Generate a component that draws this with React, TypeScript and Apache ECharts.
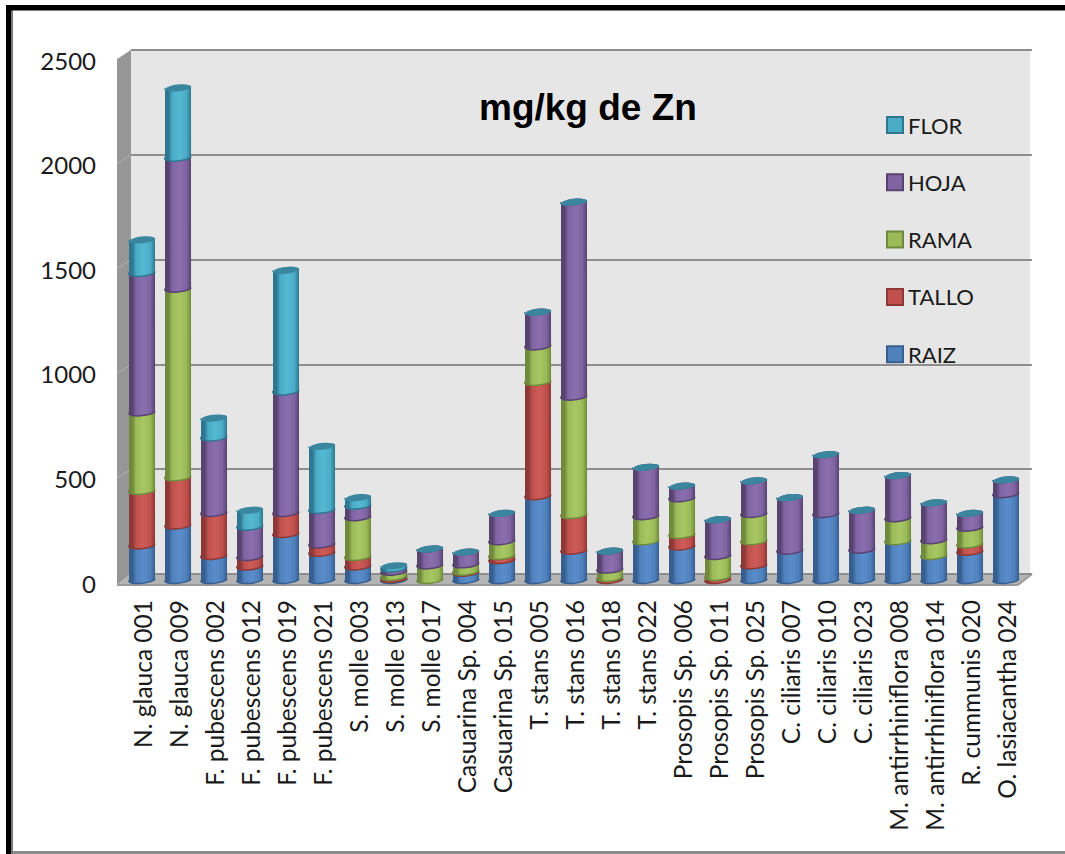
import React, { useEffect, useRef } from "react";
import * as echarts from "echarts";

const categories = [
  "N. glauca 001", "N. glauca 009", "F. pubescens 002", "F. pubescens 012", "F. pubescens 019",
  "F. pubescens 021", "S. molle 003", "S. molle 013", "S. molle 017", "Casuarina Sp. 004",
  "Casuarina Sp. 015", "T. stans 005", "T. stans 016", "T. stans 018", "T. stans 022",
  "Prosopis Sp. 006", "Prosopis Sp. 011", "Prosopis Sp. 025", "C. ciliaris 007", "C. ciliaris 010",
  "C. ciliaris 023", "M. antirrhiniflora 008", "M. antirrhiniflora 014", "R. cummunis 020", "O. lasiacantha 024",
];
const raiz = [165, 260, 115, 65, 220, 130, 65, 5, 0, 35, 95, 400, 140, 0, 185, 160, 0, 70, 140, 315, 145, 185, 115, 135, 410];
const tallo = [260, 230, 205, 45, 100, 40, 45, 10, 0, 5, 20, 545, 170, 10, 0, 55, 15, 115, 0, 0, 0, 0, 0, 35, 0];
const rama = [375, 900, 0, 0, 0, 0, 190, 25, 70, 35, 70, 170, 565, 40, 120, 175, 100, 130, 0, 0, 0, 110, 75, 80, 0];
const hoja = [665, 625, 360, 145, 580, 165, 55, 15, 75, 55, 130, 160, 925, 85, 230, 55, 170, 155, 250, 280, 185, 200, 175, 65, 65];
const flor = [155, 330, 90, 75, 575, 300, 35, 10, 0, 0, 0, 0, 0, 0, 0, 0, 0, 0, 0, 0, 0, 0, 0, 0, 0];
const yTicks = [0, 500, 1000, 1500, 2000, 2500];

const FONT = "Lato";
const stacks = [
  { name: "RAIZ", values: raiz, main: "#4F81BD", light: "#5A8DCB", dark: "#375E8E", cap: "#3F6A9E" },
  { name: "TALLO", values: tallo, main: "#C0504D", light: "#CE5B58", dark: "#8C3836", cap: "#9A3F3C" },
  { name: "RAMA", values: rama, main: "#9BBB59", light: "#A6C763", dark: "#6F8A3C", cap: "#7C9A42" },
  { name: "HOJA", values: hoja, main: "#8064A2", light: "#8B6EAE", dark: "#574270", cap: "#5F4A7C" },
  { name: "FLOR", values: flor, main: "#4BACC6", light: "#55B9D4", dark: "#2F7690", cap: "#3A869E" },
];

function segmentData(idx: number) {
  return categories.map((_, i) => {
    let start = 0;
    for (let s = 0; s < idx; s++) start += stacks[s].values[i];
    return [i, start, start + stacks[idx].values[i]];
  });
}

function makeRenderItem(idx: number) {
  const st = stacks[idx];
  const fill = new echarts.graphic.LinearGradient(0, 0, 1, 0, [
    { offset: 0, color: st.dark },
    { offset: 0.14, color: st.dark },
    { offset: 0.28, color: st.main },
    { offset: 0.55, color: st.light },
    { offset: 0.82, color: st.main },
    { offset: 1, color: st.dark },
  ]);
  return (_p: any, api: any) => {
    const i = api.value(0);
    const a = api.value(1);
    const b = api.value(2);
    if (b <= a && idx !== stacks.length - 1) return null;
    const c0 = api.coord([i, a]);
    const c1 = api.coord([i, b]);
    const cx = c0[0];
    const yb = c0[1];
    const yt = c1[1];
    const rx = 13;
    const ry = 3.6;
    const t = 1.4;
    const l = cx - rx;
    const r = cx + rx;
    const rot = -6;
    const children: any[] = [];
    if (b > a) {
      children.push({
        type: "path",
        shape: {
          pathData: `M${l} ${yt + t}L${l} ${yb + t}A${rx} ${ry} ${rot} 0 0 ${r} ${yb - t}L${r} ${yt - t}Z`,
        },
        style: { fill },
      });
      children.push({
        type: "path",
        shape: { pathData: `M${l} ${yb + t}A${rx} ${ry} ${rot} 0 0 ${r} ${yb - t}` },
        style: { fill: "none", stroke: st.dark, lineWidth: 1.5 },
      });
    }
    children.push({
      type: "path",
      shape: {
        pathData: `M${l} ${yt + t}A${rx} ${ry} ${rot} 1 1 ${r} ${yt - t}A${rx} ${ry} ${rot} 1 1 ${l} ${yt + t}Z`,
      },
      style: { fill: st.cap },
    });
    return { type: "group", children };
  };
}

export default function App() {
  const ref = useRef<HTMLDivElement>(null);
  useEffect(() => {
    const chart = echarts.init(ref.current!, null, { renderer: "svg" });
    const wallTicks = yTicks.slice(1, -1);
    chart.setOption({
      animation: false,
      backgroundColor: "#fff",
      title: {
        text: "mg/kg de Zn",
        left: 474,
        top: 84,
        textStyle: { fontFamily: "Liberation Sans", fontWeight: "bold", fontSize: 37, color: "#000" },
      },
      legend: {
        orient: "vertical",
        left: 886,
        top: 114,
        padding: 0,
        itemWidth: 16,
        itemHeight: 16,
        itemGap: 35.3,
        selectedMode: false,
        textStyle: { fontFamily: FONT, fontSize: 22, color: "#1a1a1a" },
        data: [...stacks].reverse().map((s) => ({
          name: s.name,
          icon: "rect",
          itemStyle: { color: s.main, borderColor: s.dark, borderWidth: 2 },
        })),
      },
      grid: [
        { left: 124, width: 900, top: 55, height: 524 },
        { left: 131, width: 901, top: 50, height: 524 },
        { left: 117, width: 901, top: 60, height: 523 },
      ],
      xAxis: [
        {
          type: "category",
          gridIndex: 0,
          data: categories,
          axisLine: { show: false },
          axisTick: { show: false },
          axisLabel: {
            rotate: 90,
            interval: 0,
            margin: 21,
            fontFamily: FONT,
            fontSize: 24.5,
            color: "#1a1a1a",
          },
        },
        { type: "category", gridIndex: 1, data: categories, show: false },
        { type: "category", gridIndex: 2, data: categories, show: false },
      ],
      yAxis: [
        { type: "value", gridIndex: 0, min: 0, max: 2500, interval: 500, show: false },
        {
          type: "value",
          gridIndex: 1,
          min: 0,
          max: 2500,
          interval: 500,
          axisLine: { show: false },
          axisTick: { show: false },
          axisLabel: { show: false },
          splitLine: { show: true, lineStyle: { color: "#8E8E8E", width: 2 } },
        },
        {
          type: "value",
          gridIndex: 2,
          min: 0,
          max: 2500,
          interval: 500,
          axisLine: { show: false },
          axisTick: { show: false },
          splitLine: { show: false },
          axisLabel: {
            margin: 21,
            fontFamily: FONT,
            fontSize: 24,
            color: "#1a1a1a",
            formatter: (v: number) => (yTicks.includes(v) ? String(v) : ""),
          },
        },
      ],
      series: stacks.map((s, idx) => ({
        type: "custom",
        name: s.name,
        xAxisIndex: 0,
        yAxisIndex: 0,
        clip: false,
        silent: true,
        itemStyle: { color: s.main },
        encode: { x: 0, y: [1, 2] },
        data: segmentData(idx),
        renderItem: makeRenderItem(idx),
      })),
      graphic: [
        { type: "rect", z: -10, shape: { x: 131, y: 50, width: 899, height: 524 }, style: { fill: "#E6E6E6" } },
        { type: "rect", z: -9, shape: { x: 131, y: 49, width: 901, height: 2 }, style: { fill: "#8E8E8E" } },
        { type: "polygon", z: -9, shape: { points: [[117, 59], [131, 50], [131, 574], [117, 585]] }, style: { fill: "#969696" } },
        { type: "polygon", z: -9, shape: { points: [[117, 585], [131, 574], [1032, 574], [1018, 585]] }, style: { fill: "#B4B4B4" } },
        { type: "line", z: -8, shape: { x1: 117, y1: 585, x2: 1018, y2: 585 }, style: { stroke: "#9A9A9A", lineWidth: 2 } },
        { type: "line", z: -8, shape: { x1: 131, y1: 574, x2: 1032, y2: 574 }, style: { stroke: "#8E8E8E", lineWidth: 2 } },
        { type: "line", z: -8, shape: { x1: 1018, y1: 585, x2: 1032, y2: 574 }, style: { stroke: "#9A9A9A", lineWidth: 2 } },
        ...wallTicks.map((v) => ({
          type: "line",
          z: -8,
          shape: { x1: 117, y1: 574 - v * 0.2096 + 9, x2: 131, y2: 574 - v * 0.2096 },
          style: { stroke: "#A8A8A8", lineWidth: 1.5 },
        })),
        { type: "rect", z: 5, shape: { x: 6, y: 5, width: 5.5, height: 849 }, style: { fill: "#000" } },
        { type: "rect", z: 5, shape: { x: 11.5, y: 10, width: 1.5, height: 844 }, style: { fill: "#777" } },
        { type: "rect", z: 5, shape: { x: 6, y: 5, width: 1059, height: 5.5 }, style: { fill: "#000" } },
        { type: "rect", z: 5, shape: { x: 13, y: 851, width: 1052, height: 3 }, style: { fill: "#8A8A8A" } },
      ],
    });
    return () => chart.dispose();
  }, []);
  return <div ref={ref} style={{ position: "absolute", left: 0, top: 0, width: 1065, height: 854 }} />;
}
